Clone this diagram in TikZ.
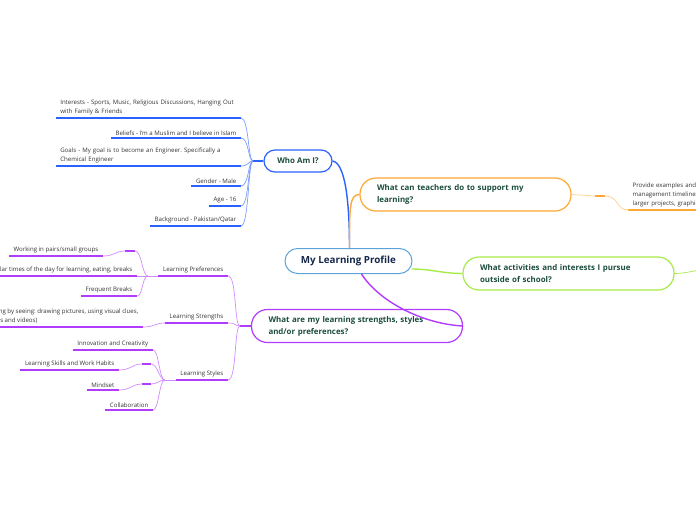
\documentclass[tikz,border=0pt]{standalone}
\usepackage{fontspec}
\setmainfont{Open Sans}
\usetikzlibrary{calc}
\frenchspacing
\definecolor{whoblue}{HTML}{2962FF}
\definecolor{wholight}{HTML}{7C9CFF}
\definecolor{stylpurple}{HTML}{B23CFD}
\definecolor{styllight}{HTML}{D08CFF}
\definecolor{teachorange}{HTML}{FFA833}
\definecolor{teachlight}{HTML}{FFD08A}
\definecolor{actgreen}{HTML}{A6EB4A}
\definecolor{rootblue}{HTML}{5BA3D9}
\definecolor{topictext}{HTML}{1B4D3E}
\definecolor{roottext}{HTML}{14284B}
\definecolor{leaftext}{HTML}{333333}
\tikzset{
  leaf/.style={anchor=south east,inner xsep=4.5pt,inner ysep=2.5pt,text=leaftext,
    font=\fontsize{6.1}{9}\selectfont,align=left},
  wrap/.style={text width=176pt},
  single/.style={},
  pill/.style={draw=#1,fill=white,line width=1.2pt,text=topictext,
    font=\bfseries\fontsize{7.9}{12}\selectfont},
  topic/.style={pill=#1,rounded corners=16pt,align=left,inner xsep=17pt,
    minimum height=33pt,text width=177pt},
  uline/.style={line width=2pt,#1},
  twig/.style={line width=0.7pt,#1},
  limb/.style={line width=1.4pt,#1},
}
\begin{document}
\begin{tikzpicture}[x=1pt,y=-1pt]
\useasboundingbox (0,0) rectangle (696,520);
% main topics
\node[draw=rootblue,line width=1pt,rounded corners=12.5pt,minimum width=127pt,minimum height=25pt,
  text=roottext,font=\bfseries\fontsize{9.8}{12}\selectfont] (root) at (348.5,261) {My Learning Profile};
\node[pill=whoblue,minimum width=68pt,minimum height=22pt,rounded corners=11pt] (who) at (298,161) {Who Am I?};
\node[topic=teachorange] (teach) at (465.5,194.5) {What can teachers do to support my\\learning?};
\node[topic=actgreen] (act) at (568.5,273.5) {What activities and interests I pursue\\outside of school?};
\node[topic=stylpurple] (styl) at (357,326) {What are my learning strengths, styles\\and/or preferences?};
\coordinate (rootn) at ($(root.north)+(1,0)$);
\coordinate (roots) at ($(root.south)+(13,0)$);
\coordinate (roote) at ($(root.east)+(-1,8)$);
\draw[limb=whoblue] (who.east) .. controls +(12,2) and +(0,-50) .. (rootn);
\draw[limb=teachorange] (rootn) .. controls +(0,-40) and +(-10,0) .. (teach.west);
\draw[limb=actgreen] (roote) .. controls +(20,0) and +(-20,0) .. (act.west);
\draw[limb=stylpurple] (roots) .. controls +(18,28) and +(-40,-2) .. (styl.east);

% who am I
\coordinate (whoj) at (253,161);
\draw[uline=whoblue] (whoj) -- (who.west);
\foreach \n/\y/\t/\w in {
  interests/118/{Interests - Sports, Music, Religious Discussions, Hanging Out\\with Family \& Friends}/wrap,
  beliefs/138/{Beliefs - I'm a Muslim and I believe in Islam}/single,
  goals/166/{Goals - My goal is to become an Engineer. Specifically a\\Chemical Engineer}/wrap,
  gender/186/{Gender - Male}/single,
  age/206/{Age - 16}/single,
  background/226/{Background - Pakistan/Qatar}/single}
{
  \node[leaf,\w] (\n) at (241,\y) {\t};
  \draw[uline=whoblue] (\n.south west) -- (\n.south east);
  \draw[twig=wholight] (\n.south east) .. controls +(8,0) and +(-5,0) .. (whoj);
}

% strengths, styles, preferences
\coordinate (stylj) at (240,326);
\draw[uline=stylpurple] (stylj) -- (styl.west);
\foreach \n/\y/\t in {prefs/276/Learning Preferences,strengths/323/Learning Strengths,styles/380/Learning Styles}
{
  \node[leaf] (\n) at (228,\y) {\t};
  \draw[uline=stylpurple] (\n.south west) -- (\n.south east);
  \draw[twig=styllight] (\n.south east) .. controls +(9,0) and +(-6,0) .. (stylj);
}
\coordinate (prefj) at (148,276);
\coordinate (stylesj) at (165,380);
\draw[twig=styllight] (prefj) -- (prefs.south west);
\draw[twig=styllight] (stylesj) -- (styles.south west);
\foreach \n/\x/\y/\t in {
  pairs/103/256/{Working in pairs/small groups},
  regular/137/276/{Regular times of the day for learning, eating, breaks},
  breaks/137/296/{Frequent Breaks},
  innov/153/350/{Innovation and Creativity},
  skills/119/370/{Learning Skills and Work Habits},
  mindset/119/390/{Mindset},
  collab/153/410/{Collaboration}}
{
  \node[leaf] (\n) at (\x,\y) {\t};
  \draw[uline=stylpurple] (\n.south west) -- (\n.south east);
}
\node[leaf] (seeing) at (143,327)
  {(Learning by seeing: drawing pictures, using visual clues,\\graphics and videos)};
\draw[uline=stylpurple] (seeing.south west) -- (seeing.south east);
\draw[twig=styllight] (seeing.south east) .. controls +(12,0) and +(-10,0) .. (strengths.south west);
% short stubs
\coordinate (pairsa) at (125,251); \coordinate (pairsb) at (135,251);
\coordinate (skillsa) at (142,364); \coordinate (skillsb) at (151,364);
\coordinate (mindseta) at (142,384); \coordinate (mindsetb) at (151,384);
\foreach \n/\j in {pairs/prefj,skills/stylesj,mindset/stylesj}
{
  \draw[twig=styllight] (\n.south east) .. controls +(12,0) and +(-10,0) .. (\n a);
  \draw[uline=stylpurple] (\n a) -- (\n b);
  \draw[twig=styllight] (\n b) .. controls +(7,0) and +(-6,0) .. (\j);
}
\foreach \n/\j in {regular/prefj,breaks/prefj,innov/stylesj,collab/stylesj}
  \draw[twig=styllight] (\n.south east) .. controls +(6,0) and +(-6,0) .. (\j);

% teachers
\coordinate (teacha) at (595,196); \coordinate (teachb) at (605,196);
\node[leaf,anchor=south west,text width=150pt] (examples) at (628,210)
  {Provide examples and exemplars, time\\management timelines for\\larger projects, graphic organizers};
\draw[uline=teachorange] (examples.south west) -- (examples.south east);
\draw[twig=teachlight] (teach.east) .. controls +(12,0) and +(-12,0) .. (teacha);
\draw[uline=teachorange] (teacha) -- (teachb);
\draw[twig=teachlight] (teachb) .. controls +(14,0) and +(-12,0) .. (examples.south west);

% activities
\coordinate (actend) at (710,269);
\draw[twig=actgreen] (act.east) .. controls +(12,0) and +(-10,0) .. (actend);
\end{tikzpicture}
\end{document}
